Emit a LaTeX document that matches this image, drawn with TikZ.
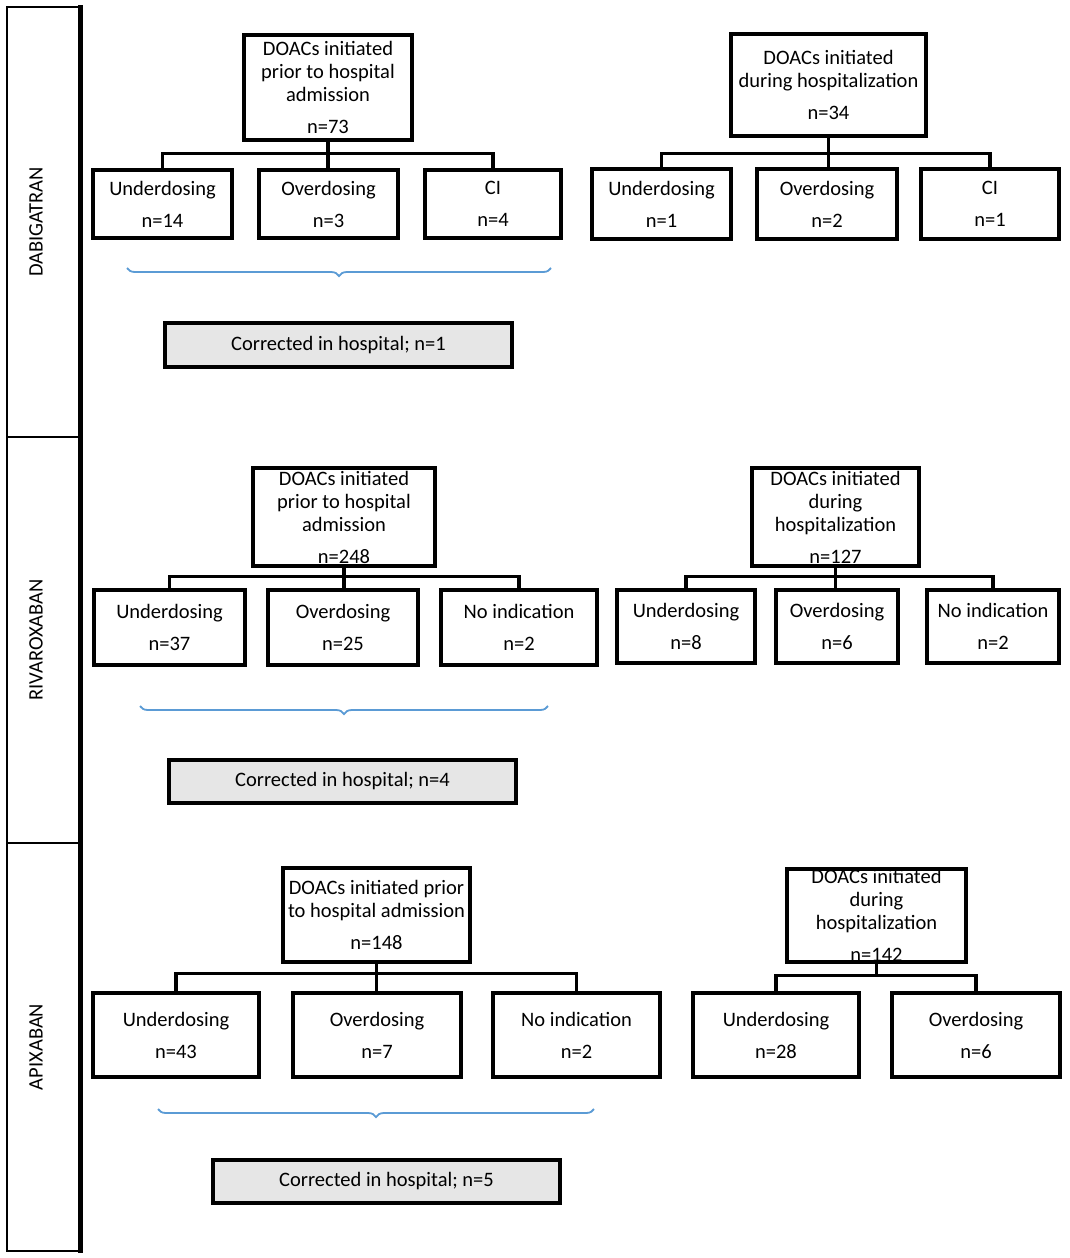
\documentclass[tikz,border=0pt]{standalone}
\usepackage{fontspec}
\setmainfont{Carlito}
\usepackage{xcolor}
\usetikzlibrary{decorations.pathreplacing}
\definecolor{bracecol}{HTML}{5B9BD5}
\definecolor{corrfill}{HTML}{E6E6E6}

\begin{document}
\begin{tikzpicture}[x=1pt,y=-1pt,font=\fontsize{20.5}{23}\selectfont,
    box/.style={draw,line width=3.3pt,align=center,inner sep=0pt},
    corr/.style={box,fill=corrfill,minimum width=347,minimum height=44},
    link/.style={line width=3.3pt},
    bracket/.style={draw=bracecol,line width=1.8pt,decorate,
        decoration={brace,mirror,amplitude=8pt,aspect=0.5}}]

\useasboundingbox (0,0) rectangle (1070,1258);

\draw[line width=2pt] (7,7) rectangle (80,1251);
\draw[line width=2pt] (7,437) -- (80,437) (7,843) -- (80,843);
\draw[line width=5pt] (80,5) -- (80,1253);
\node[rotate=90] (dabLbl) at (36,222) {DABIGATRAN};
\node[rotate=90] (rivLbl) at (36,640) {RIVAROXABAN};
\node[rotate=90] (apxLbl) at (36,1047) {APIXABAN};

\node[box,minimum width=168,minimum height=105,
    label={[align=center]center:{DOACs initiated\\prior to hospital\\admission\\[9pt]n=73}}]
    (dabPre) at (328,87.5) {};
\node[box,minimum width=139,minimum height=68] (dabPreU) at (162.5,204) {Underdosing\\[9pt]n=14};
\node[box,minimum width=139,minimum height=68] (dabPreO) at (328.5,204) {Overdosing\\[9pt]n=3};
\node[box,minimum width=136,minimum height=68] (dabPreC) at (493,204) {CI\\[9pt]n=4};
\draw[link] (dabPre.south) -- (dabPre.south |- dabPreO.north);
\draw[link] (dabPreU.north) -- ++(0,-15) -| (dabPreC.north);
\draw[bracket] (127,268) -- (551,268);
\node[corr] (dabCorr) at (338.5,345) {Corrected in hospital; n=1};

\node[box,minimum width=195,minimum height=102,
    label={[align=center]center:{DOACs initiated\\during hospitalization\\[9pt]n=34}}]
    (dabDur) at (828.5,85) {};
\node[box,minimum width=139,minimum height=70] (dabDurU) at (661.5,204) {Underdosing\\[9pt]n=1};
\node[box,minimum width=140,minimum height=70] (dabDurO) at (827,204) {Overdosing\\[9pt]n=2};
\node[box,minimum width=138,minimum height=70] (dabDurC) at (990,204) {CI\\[9pt]n=1};
\draw[link] (dabDur.south) -- (dabDur.south |- dabDurO.north);
\draw[link] (dabDurU.north) -- ++(0,-14) -| (dabDurC.north);

\node[box,minimum width=182,minimum height=98,
    label={[align=center]center:{DOACs initiated\\prior to hospital\\admission\\[9pt]n=248}}]
    (rivPre) at (344,517) {};
\node[box,minimum width=151,minimum height=75] (rivPreU) at (169.5,627.5) {Underdosing\\[9pt]n=37};
\node[box,minimum width=150,minimum height=75] (rivPreO) at (343,627.5) {Overdosing\\[9pt]n=25};
\node[box,minimum width=156,minimum height=75] (rivPreN) at (519,627.5) {No indication\\[9pt]n=2};
\draw[link] (rivPre.south) -- (rivPre.south |- rivPreO.north);
\draw[link] (rivPreU.north) -- ++(0,-12) -| (rivPreN.north);
\draw[bracket] (140,706) -- (548,706);
\node[corr,minimum height=43] (rivCorr) at (342.5,781.5) {Corrected in hospital; n=4};

\node[box,minimum width=167,minimum height=98,
    label={[align=center]center:{DOACs initiated\\during\\hospitalization\\[9pt]n=127}}]
    (rivDur) at (835.5,517) {};
\node[box,minimum width=138,minimum height=73] (rivDurU) at (686,626.5) {Underdosing\\[9pt]n=8};
\node[box,minimum width=122,minimum height=73] (rivDurO) at (837,626.5) {Overdosing\\[9pt]n=6};
\node[box,minimum width=132,minimum height=73] (rivDurN) at (993,626.5) {No indication\\[9pt]n=2};
\draw[link] (rivDur.south) -- (rivDur.south |- rivDurO.north);
\draw[link] (rivDurU.north) -- ++(0,-12) -| (rivDurN.north);

\node[box,minimum width=187,minimum height=94,
    label={[align=center]center:{DOACs initiated prior\\to hospital admission\\[9pt]n=148}}]
    (apxPre) at (376.5,915) {};
\node[box,minimum width=166,minimum height=84] (apxPreU) at (176,1035) {Underdosing\\[9pt]n=43};
\node[box,minimum width=168,minimum height=84] (apxPreO) at (377,1035) {Overdosing\\[9pt]n=7};
\node[box,minimum width=167,minimum height=84] (apxPreN) at (576.5,1035) {No indication\\[9pt]n=2};
\draw[link] (apxPre.south) -- (apxPre.south |- apxPreO.north);
\draw[link] (apxPreU.north) -- ++(0,-18) -| (apxPreN.north);
\draw[bracket] (158,1109) -- (594,1109);
\node[corr,minimum height=43] (apxCorr) at (386.5,1181.5) {Corrected in hospital; n=5};

\node[box,minimum width=179,minimum height=93,
    label={[align=center]center:{DOACs initiated\\during\\hospitalization\\[9pt]n=142}}]
    (apxDur) at (876.5,915.5) {};
\node[box,minimum width=166,minimum height=84] (apxDurU) at (776,1035) {Underdosing\\[9pt]n=28};
\node[box,minimum width=168,minimum height=84] (apxDurO) at (976,1035) {Overdosing\\[9pt]n=6};
\draw[link] (apxDurU.north) -- ++(0,-16) coordinate (apxBus) -| (apxDurO.north);
\draw[link] (apxDur.south) -- (apxDur.south |- apxBus);

\end{tikzpicture}
\end{document}
